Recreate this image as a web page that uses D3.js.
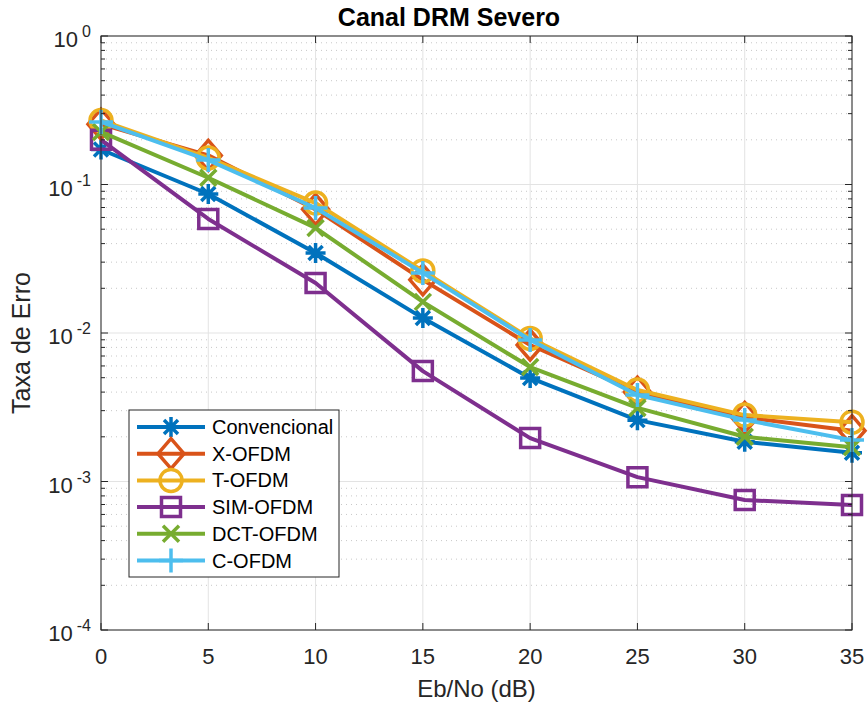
<!DOCTYPE html>
<html>
<head>
<meta charset="utf-8">
<script src="https://cdn.jsdelivr.net/npm/d3@7"></script>
<style>
  body { margin: 0; background: #fff; }
  svg text { font-family: "Liberation Sans", Arial, Helvetica, sans-serif; fill: #262626; }
</style>
</head>
<body>
<svg id="chart" width="868" height="706"></svg>
<script>
"use strict"

// Eb/No (dB) points
const ebno = [0, 5, 10, 15, 20, 25, 30, 35]

// error rates
const convencional = [0.172, 0.0863, 0.0346, 0.0126, 0.00498, 0.00259, 0.00185, 0.00156]
const xOfdm = [0.255, 0.157, 0.068, 0.0228, 0.0083, 0.0040, 0.0027, 0.0022]
const tOfdm = [0.27, 0.151, 0.075, 0.0262, 0.0092, 0.00413, 0.0028, 0.00251]
const simOfdm = [0.2, 0.0586, 0.0217, 0.00554, 0.00196, 0.00107, 0.00075, 0.000695]
const dctOfdm = [0.226, 0.111, 0.051, 0.0162, 0.0059, 0.00313, 0.0020, 0.0017]
const cOfdm = [0.264, 0.146, 0.0695, 0.0254, 0.00897, 0.00382, 0.0026, 0.0019]

const seriesNames = ["Convencional", "X-OFDM", "T-OFDM", "SIM-OFDM", "DCT-OFDM", "C-OFDM"]
const seriesValues = [convencional, xOfdm, tOfdm, simOfdm, dctOfdm, cOfdm]
const seriesColors = ["#0072BD", "#D95319", "#EDB120", "#7E2F8E", "#77AC30", "#4DBEEE"]
const seriesMarkers = ["star", "diamond", "circle", "square", "cross", "plus"]

const xTicks = [0, 5, 10, 15, 20, 25, 30, 35]
const yDecades = [-4, -3, -2, -1, 0]

const margin = { top: 36, left: 101, right: 16, bottom: 76 }
const width = 868, height = 706

const svg = d3.select("#chart")

const x = d3.scaleLinear()
    .domain([0, 35])
    .range([margin.left, width - margin.right])
const y = d3.scaleLog()
    .domain([1e-4, 1])
    .range([height - margin.bottom, margin.top])

const [x0, x1] = x.range()
const [y0, y1] = y.range()   // y0 bottom, y1 top

// minor values on log axis
const minorVals = []
yDecades.slice(0, -1).forEach(d => {
    for (let k = 2; k <= 9; k++) { minorVals.push(k * Math.pow(10, d)) }
})

// grid
const grid = svg.append("g")
grid.selectAll(".ygrid-minor")
    .data(minorVals)
    .enter().append("line")
    .attr("x1", x0).attr("x2", x1)
    .attr("y1", d => y(d)).attr("y2", d => y(d))
    .attr("stroke", "#c8c8c8")
    .attr("stroke-width", 1)
    .attr("stroke-dasharray", "1,4")
grid.selectAll(".xgrid")
    .data(xTicks)
    .enter().append("line")
    .attr("x1", d => x(d)).attr("x2", d => x(d))
    .attr("y1", y0).attr("y2", y1)
    .attr("stroke", "#e3e3e3")
grid.selectAll(".ygrid")
    .data(yDecades)
    .enter().append("line")
    .attr("x1", x0).attr("x2", x1)
    .attr("y1", d => y(Math.pow(10, d))).attr("y2", d => y(Math.pow(10, d)))
    .attr("stroke", "#e3e3e3")

// marker shapes, MATLAB style
function markerPath(type) {
    const p = d3.path()
    if (type === "circle") {
        p.moveTo(11, 0); p.arc(0, 0, 11, 0, 2 * Math.PI)
    } else if (type === "square") {
        p.rect(-9.5, -9.5, 19, 19)
    } else if (type === "diamond") {
        p.moveTo(0, -15); p.lineTo(13, 0); p.lineTo(0, 15); p.lineTo(-13, 0); p.closePath()
    } else if (type === "plus") {
        p.moveTo(-12, 0); p.lineTo(12, 0); p.moveTo(0, -12); p.lineTo(0, 12)
    } else if (type === "cross") {
        p.moveTo(-8, -8); p.lineTo(8, 8); p.moveTo(-8, 8); p.lineTo(8, -8)
    } else if (type === "star") {
        p.moveTo(-10, 0); p.lineTo(10, 0); p.moveTo(0, -10); p.lineTo(0, 10)
        p.moveTo(-7, -7); p.lineTo(7, 7); p.moveTo(-7, 7); p.lineTo(7, -7)
    }
    return p.toString()
}

const line = d3.line()
    .x((d, i) => x(ebno[i]))
    .y(d => y(d))

const plot = svg.append("g")
seriesValues.forEach((vals, s) => {
    const g = plot.append("g")
    g.append("path")
        .datum(vals)
        .attr("d", line)
        .attr("fill", "none")
        .attr("stroke", seriesColors[s])
        .attr("stroke-width", 4)
        .attr("stroke-linejoin", "round")
    g.selectAll(".mk")
        .data(vals)
        .enter().append("path")
        .attr("transform", (d, i) => `translate(${x(ebno[i])},${y(d)})`)
        .attr("d", markerPath(seriesMarkers[s]))
        .attr("fill", "none")
        .attr("stroke", seriesColors[s])
        .attr("stroke-width", 3.5)
})

// axes box + inward ticks
const axes = svg.append("g").attr("stroke", "#262626").attr("stroke-width", 1)
axes.append("rect")
    .attr("x", x0).attr("y", y1)
    .attr("width", x1 - x0).attr("height", y0 - y1)
    .attr("fill", "none")
xTicks.forEach(t => {
    axes.append("line").attr("x1", x(t)).attr("x2", x(t)).attr("y1", y0).attr("y2", y0 - 7)
    axes.append("line").attr("x1", x(t)).attr("x2", x(t)).attr("y1", y1).attr("y2", y1 + 7)
})
yDecades.forEach(d => {
    const yy = y(Math.pow(10, d))
    axes.append("line").attr("x1", x0).attr("x2", x0 + 7).attr("y1", yy).attr("y2", yy)
    axes.append("line").attr("x1", x1).attr("x2", x1 - 7).attr("y1", yy).attr("y2", yy)
})
minorVals.forEach(v => {
    const yy = y(v)
    axes.append("line").attr("x1", x0).attr("x2", x0 + 4).attr("y1", yy).attr("y2", yy)
    axes.append("line").attr("x1", x1).attr("x2", x1 - 4).attr("y1", yy).attr("y2", yy)
})

// tick labels
svg.append("g").selectAll("text")
    .data(xTicks)
    .enter().append("text")
    .attr("x", d => x(d))
    .attr("y", y0 + 34)
    .attr("text-anchor", "middle")
    .style("font-size", "22px")
    .text(d => d)

const yLab = svg.append("g").selectAll("text")
    .data(yDecades)
    .enter().append("text")
    .attr("x", x0 - 10)
    .attr("y", d => y(Math.pow(10, d)) + 11)
    .attr("text-anchor", "end")
    .style("font-size", "22px")
yLab.append("tspan").text("10")
yLab.append("tspan")
    .attr("dx", 4)
    .attr("dy", -10)
    .style("font-size", "16px")
    .text(d => d)

// axis titles
svg.append("text")
    .attr("x", (x0 + x1) / 2)
    .attr("y", 697)
    .attr("text-anchor", "middle")
    .style("font-size", "24px")
    .text("Eb/No (dB)")
svg.append("text")
    .attr("transform", "translate(30,343) rotate(-90)")
    .attr("text-anchor", "middle")
    .style("font-size", "25px")
    .text("Taxa de Erro")
svg.append("text")
    .attr("x", 449)
    .attr("y", 26)
    .attr("text-anchor", "middle")
    .style("font-size", "25px")
    .style("font-weight", "bold")
    .style("fill", "#000")
    .text("Canal DRM Severo")

// legend
const leg = svg.append("g").attr("transform", "translate(129,410)")
leg.append("rect")
    .attr("width", 210).attr("height", 167)
    .attr("fill", "#fff")
    .attr("stroke", "#262626")
seriesNames.forEach((name, s) => {
    const ry = 17 + s * 26.7
    leg.append("line")
        .attr("x1", 8).attr("x2", 76).attr("y1", ry).attr("y2", ry)
        .attr("stroke", seriesColors[s]).attr("stroke-width", 4)
    leg.append("path")
        .attr("transform", `translate(42,${ry})`)
        .attr("d", markerPath(seriesMarkers[s]))
        .attr("fill", "none")
        .attr("stroke", seriesColors[s])
        .attr("stroke-width", 3.5)
    leg.append("text")
        .attr("x", 83).attr("y", ry + 7)
        .style("font-size", "20px")
        .style("fill", "#000")
        .text(name)
})
</script>
</body>
</html>
